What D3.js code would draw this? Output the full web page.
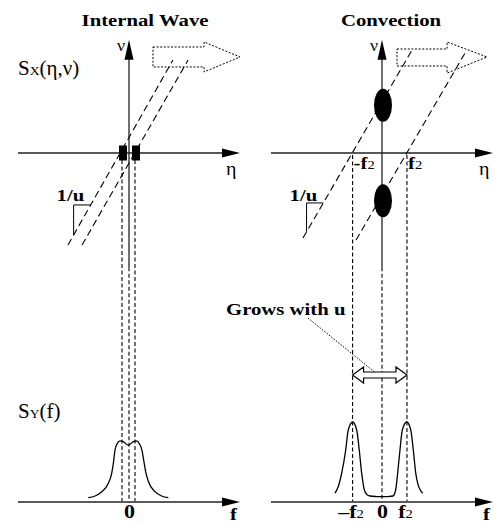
<!DOCTYPE html>
<html><head><meta charset="utf-8">
<script src="https://cdn.jsdelivr.net/npm/d3@7"></script>
<style>body{margin:0;background:#fff}svg{display:block}</style>
</head><body><svg id="c" width="498" height="525"></svg>
<script>
// ---------------- data (abstract units) ----------------
const panelTitles = ["Internal Wave", "Convection"];
// Internal wave: spectral peaks on the eta axis (eta positions)
const iwPeaksEta = [-0.054, 0.063];
const iwGuidesF = [-0.063, 0.054];
// Convection: spectral blobs on the nu axis (nu positions)
const cvBlobsNu = [0.43, -0.43];
const cvF2 = [-0.265, 0.225];
// dashed slanted lines (slope 1/u), endpoints [eta, nu]
const iwSlantA = [[-0.55, -0.829], [0.396, 0.838]];
const iwSlantB = [[-0.423, -0.829], [0.532, 0.838]];
const cvSlantA = [[-0.712, -0.766], [0.270, 0.928]];
const cvSlantB = [[-0.234, -0.784], [0.748, 0.901]];
// slope brackets: [nuTop, nuBottom] along first slanted line
const iwBracketNu = [-0.468, -0.739];
const cvBracketNu = [-0.45, -0.71];
// hollow dotted "motion" arrows [eta, nu]
const iwMoveArrow = [[0.216, 0.955], [0.676, 0.955], [0.676, 1.0], [1.0, 0.865], [0.676, 0.73], [0.676, 0.775], [0.216, 0.775]];
const cvMoveArrow = [[0.135, 0.937], [0.586, 0.937], [0.586, 1.0], [0.946, 0.865], [0.586, 0.72], [0.586, 0.784], [0.135, 0.784]];
// frequency spectra S_Y(f)
const iwSpecF = [-0.367, -0.306, -0.246, -0.186, -0.156, -0.141, -0.126, -0.105, -0.081, -0.051, -0.006, 0.039, 0.066, 0.095, 0.118, 0.135, 0.150, 0.174, 0.234, 0.294, 0.354];
const iwSpecS = [0.054, 0.075, 0.129, 0.234, 0.359, 0.484, 0.650, 0.733, 0.763, 0.754, 0.710, 0.754, 0.763, 0.725, 0.640, 0.500, 0.380, 0.260, 0.129, 0.075, 0.054];
const cvSpecF = [-0.423, -0.392, -0.363, -0.327, -0.304, -0.264, -0.228, -0.205, -0.183, -0.159, -0.135, -0.108, -0.05, 0, 0.05, 0.099, 0.123, 0.141, 0.162, 0.183, 0.223, 0.259, 0.282, 0.304, 0.324, 0.345, 0.367];
const cvSpecS = [0.11, 0.20, 0.36, 0.65, 0.90, 1.0, 0.90, 0.65, 0.36, 0.15, 0.09, 0.075, 0.068, 0.066, 0.068, 0.075, 0.15, 0.36, 0.65, 0.90, 1.0, 0.90, 0.65, 0.36, 0.22, 0.15, 0.11];
const iwTicks = [{ f: 0, t: [["0"]] }];
const cvTicks = [{ f: -0.265, t: [["–f"], ["2", 12, "normal"]] }, { f: 0, t: [["0"]] }, { f: 0.225, t: [["f"], ["2", 12, "normal"]] }];
// annotation: "Grows with u" leader [f, S] and double arrow level
const growLeader = [[-0.667, 2.30], [-0.045, 1.60]];
const growArrowS = 1.5875;

// ---------------- drawing ----------------
const svg = d3.select("#c");
const FONT = '"Liberation Serif","Times New Roman",serif';

function txt(g, x, y, parts, o = {}) {
  const t = g.append("text")
    .attr("transform", `translate(${x},${y}) scale(${o.sx || 1.22},1)`)
    .attr("font-family", FONT).attr("font-size", o.size || 17)
    .attr("font-weight", o.weight || "bold").attr("text-anchor", o.anchor || "start")
    .attr("fill", "#000");
  parts.forEach(p => {
    const ts = t.append("tspan").text(p[0]);
    if (p[1]) ts.attr("font-size", p[1]);
    if (p[2]) ts.attr("font-weight", p[2]);
  });
  return t;
}

function panel(cx, o) {
  const g = svg.append("g");
  const x = d3.scaleLinear().domain([-1, 1]).range([cx - 111, cx + 111]);
  const nu = d3.scaleLinear().domain([-1, 1]).range([264, 42]);
  const s = d3.scaleLinear().domain([0, 1]).range([502, 422]);
  const y0 = nu(0);

  // title
  txt(g, x(0) + o.titleDx, 26, [[o.title]], { anchor: "middle" });

  // vertical guide lines (dashed)
  o.guides.forEach(f => {
    g.append("line").attr("x1", x(f)).attr("x2", x(f))
      .attr("y1", o.guideTop).attr("y2", s(0) - 1)
      .attr("stroke", "#000").attr("stroke-width", 1.1).attr("stroke-dasharray", "4,2.5");
  });
  // center guide below nu axis
  g.append("line").attr("x1", x(0)).attr("x2", x(0))
    .attr("y1", nu(-1.03)).attr("y2", s(0) - 1)
    .attr("stroke", "#000").attr("stroke-width", 1.1).attr("stroke-dasharray", "4,2.5");

  // eta axis
  g.append("line").attr("x1", x(-1)).attr("x2", x(1) - 14).attr("y1", y0).attr("y2", y0)
    .attr("stroke", "#222").attr("stroke-width", 1.3);
  g.append("path").attr("d", d3.line()([[x(1), y0], [x(1) - 18, y0 - 4.5], [x(1) - 18, y0 + 4.5]]) + "Z").attr("fill", "#000");
  txt(g, x(1) - 14, y0 + 22, [["η"]], { weight: "normal", size: 19, sx: 1.05 });
  // nu axis
  g.append("line").attr("x1", x(0)).attr("x2", x(0)).attr("y1", nu(-1.03)).attr("y2", nu(0.9))
    .attr("stroke", "#222").attr("stroke-width", 1.3);
  const tipY = nu(1.02);
  g.append("path").attr("d", d3.line()([[x(0), tipY], [x(0) - 4.5, tipY + 20], [x(0) + 4.5, tipY + 20]]) + "Z").attr("fill", "#000");
  txt(g, x(0) - 4, 51, [["ν"]], { weight: "normal", size: 17, anchor: "end", sx: 1.05 });

  // slanted dashed lines
  [o.slantA, o.slantB].forEach(L => {
    g.append("line").attr("x1", x(L[0][0])).attr("y1", nu(L[0][1]))
      .attr("x2", x(L[1][0])).attr("y2", nu(L[1][1]))
      .attr("stroke", "#000").attr("stroke-width", 1.1).attr("stroke-dasharray", "7,4");
  });
  // slope bracket
  const A = o.slantA;
  const etaAt = v => A[0][0] + (v - A[0][1]) * (A[1][0] - A[0][0]) / (A[1][1] - A[0][1]);
  const bx = x(etaAt(o.bracket[1])), bxr = x(etaAt(o.bracket[0]));
  g.append("path").attr("d", d3.line()([[bxr, nu(o.bracket[0])], [bx, nu(o.bracket[0])], [bx, nu(o.bracket[1])]]))
    .attr("fill", "none").attr("stroke", "#000").attr("stroke-width", 1);
  txt(g, bx - 17, 201, [["1/u"]]);

  // dotted hollow motion arrow
  g.append("path").attr("d", d3.line().x(d => x(d[0])).y(d => nu(d[1]))(o.move) + "Z")
    .attr("fill", "none").attr("stroke", "#000").attr("stroke-width", 1).attr("stroke-dasharray", "2,1.6");

  // f axis
  const fy = s(0);
  g.append("line").attr("x1", x(-1)).attr("x2", x(1) - 14).attr("y1", fy).attr("y2", fy)
    .attr("stroke", "#222").attr("stroke-width", 1.3);
  g.append("path").attr("d", d3.line()([[x(1), fy], [x(1) - 18, fy - 4.5], [x(1) - 18, fy + 4.5]]) + "Z").attr("fill", "#000");
  txt(g, x(1) - 10, 520, [["f"]]);
  const ax = g.append("g").attr("transform", `translate(0,${fy})`)
    .call(d3.axisBottom(x).tickValues(o.ticks.map(d => d.f)).tickSize(0).tickFormat(() => ""));
  ax.select(".domain").remove();
  ax.selectAll(".tick").each(function (v, i) {
    txt(d3.select(this), o.ticks[i].f === 0 ? 0 : -2, 16, o.ticks[i].t, { anchor: "middle", size: 18 });
  });

  // spectrum curve
  const pts = o.specF.map((f, i) => [f, o.specS[i]]);
  g.append("path").attr("d", d3.line().x(d => x(d[0])).y(d => s(d[1])).curve(d3.curveMonotoneX)(pts))
    .attr("fill", "none").attr("stroke", "#000").attr("stroke-width", 1.3);

  return { g, x, nu, s };
}

// ---------- Internal wave ----------
const P1 = panel(129, {
  title: panelTitles[0], titleDx: 16, guides: iwGuidesF, guideTop: 160,
  slantA: iwSlantA, slantB: iwSlantB, bracket: iwBracketNu, move: iwMoveArrow,
  ticks: iwTicks, specF: iwSpecF, specS: iwSpecS
});
iwPeaksEta.forEach(e => {
  P1.g.append("rect").attr("x", P1.x(e) - 4).attr("y", P1.nu(0) - 7.5).attr("width", 8).attr("height", 15).attr("fill", "#000");
});
txt(svg, 18, 75, [["S", 20, "normal"], ["X", 13, "normal"], ["(η,ν)", 20, "normal"]], { sx: 1.05, weight: "normal" });
txt(svg, 18, 418, [["S", 20, "normal"], ["Y", 13, "normal"], ["(f)", 20, "normal"]], { sx: 1.05, weight: "normal" });

// ---------- Convection ----------
const P2 = panel(382, {
  title: panelTitles[1], titleDx: 9, guides: cvF2, guideTop: 155,
  slantA: cvSlantA, slantB: cvSlantB, bracket: cvBracketNu, move: cvMoveArrow,
  ticks: cvTicks, specF: cvSpecF, specS: cvSpecS
});
cvBlobsNu.forEach(v => {
  P2.g.append("ellipse").attr("cx", P2.x(0.009)).attr("cy", P2.nu(v)).attr("rx", 9).attr("ry", 16.5).attr("fill", "#000");
});
// -f2 / f2 labels on eta axis
txt(P2.g, P2.x(cvF2[0]) + 1, 169, [["-f"], ["2", 12, "normal"]]);
txt(P2.g, P2.x(cvF2[1]) + 1, 169, [["f"], ["2", 12, "normal"]]);

// "Grows with u" annotation
txt(svg, P2.x(-1.405), 315, [["Grows with u"]]);
svg.append("line").attr("x1", P2.x(growLeader[0][0])).attr("y1", P2.s(growLeader[0][1]))
  .attr("x2", P2.x(growLeader[1][0])).attr("y2", P2.s(growLeader[1][1]))
  .attr("stroke", "#000").attr("stroke-width", 1).attr("stroke-dasharray", "1.5,1.5");
(function () {
  const xl = P2.x(cvF2[0]), xr = P2.x(cvF2[1]), yc = P2.s(growArrowS);
  const hl = 11, hh = 8, sh = 3;
  const pts = [[xl, yc], [xl + hl, yc - hh], [xl + hl, yc - sh], [xr - hl, yc - sh], [xr - hl, yc - hh], [xr, yc],
    [xr - hl, yc + hh], [xr - hl, yc + sh], [xl + hl, yc + sh], [xl + hl, yc + hh]];
  svg.append("path").attr("d", d3.line()(pts) + "Z").attr("fill", "#fff").attr("stroke", "#000").attr("stroke-width", 1.2);
})();
</script></body></html>
